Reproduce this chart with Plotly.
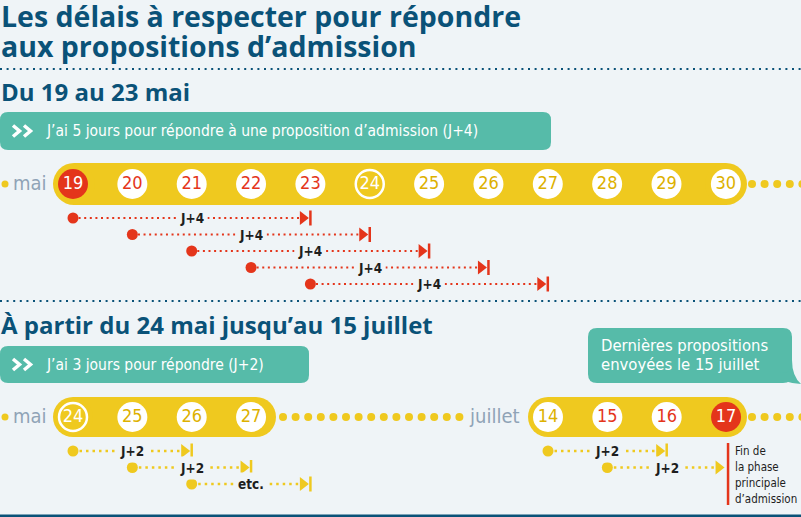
import numpy as np
import plotly.graph_objects as go

# ---------------- data ----------------
title_lines = ["Les délais à respecter pour répondre", "aux propositions d’admission"]
section1_title = "Du 19 au 23 mai"
section1_rule = "J’ai 5 jours pour répondre à une proposition d’admission (J+4)"
section2_title = "À partir du 24 mai jusqu’au 15 juillet"
section2_rule = "J’ai 3 jours pour répondre (J+2)"
bubble_lines = ["Dernières propositions", "envoyées le 15 juillet"]
end_note_lines = ["Fin de", "la phase", "principale", "d’admission"]

month_mai = "mai"
month_juillet = "juillet"

days_p1 = [19, 20, 21, 22, 23, 24, 25, 26, 27, 28, 29, 30]
p1_starts = [19, 20, 21, 22, 23]
p1_delay = 4
p1_labels = ["J+4", "J+4", "J+4", "J+4", "J+4"]

days_p2_mai = [24, 25, 26, 27]
p2_mai_starts = [24, 25, 26]
p2_delay = 2
p2_mai_labels = ["J+2", "J+2", "etc."]

days_p2_juil = [14, 15, 16, 17]
p2_juil_starts = [14, 15]
p2_juil_labels = ["J+2", "J+2"]
last_proposal_day = 15
end_day = 17

# ---------------- styles / layout ----------------
W, H = 801, 517
BG = "#EFF4F7"
NAVY = "#0A5278"
TEAL = "#56BBA9"
YEL = "#EFC91F"
YEL_TXT = "#DDB100"
RED = "#E4351B"
GREY = "#8FA3B6"
INK = "#1E1E1E"
COND = "Liberation Sans Narrow, DejaVu Sans Condensed, Arial Narrow, sans-serif"
HEAD = "Open Sans, Roboto, DejaVu Sans, sans-serif"

STEP = 59.35
X0_P1, Y_P1 = 73, 184
X0_MAI, X0_JUIL, Y_P2 = 73, 548, 417
ROW_P1 = [218, 234.5, 251, 267.5, 284]
ROW_P2 = [451, 467.5, 484]

fig = go.Figure()
shapes = []
ann = []


def xpos(day, first, x0):
    return x0 + (day - first) * STEP


def rrect(x0, y0, x1, y1, r):
    return (f"M{x0+r},{y0} L{x1-r},{y0} Q{x1},{y0} {x1},{y0+r} L{x1},{y1-r} Q{x1},{y1} {x1-r},{y1} "
            f"L{x0+r},{y1} Q{x0},{y1} {x0},{y1-r} L{x0},{y0+r} Q{x0},{y0} {x0+r},{y0} Z")


def pill(x0, x1, yc, r, color):
    shapes.append(dict(type="rect", x0=x0 + r, x1=x1 - r, y0=yc - r, y1=yc + r,
                       fillcolor=color, line_width=0, layer="below"))
    for cx in (x0 + r, x1 - r):
        shapes.append(dict(type="circle", x0=cx - r, x1=cx + r, y0=yc - r, y1=yc + r,
                           fillcolor=color, line_width=0, layer="below"))


def text(x, y, s, size, color, family=COND, xanchor="left", bold=False, bg=None):
    ann.append(dict(x=x, y=y, xref="x", yref="y", text=(f"<b>{s}</b>" if bold else s),
                    showarrow=False, xanchor=xanchor, yanchor="middle",
                    font=dict(family=family, size=size, color=color),
                    bgcolor=bg, borderpad=0))


def dot_trail(x_start, x_end, spacing, yc):
    xs = np.arange(x_start, x_end, spacing)
    fig.add_trace(go.Scatter(x=xs, y=[yc] * len(xs), mode="markers",
                             marker=dict(size=8, color=YEL), hoverinfo="skip"))


def day_circles(days, xs, yc, styles):
    groups = {
        "current": dict(fill=RED, txt="white", line=RED, lw=0),
        "deadline": dict(fill="white", txt=RED, line="white", lw=0),
        "ring": dict(fill=YEL, txt="white", line="white", lw=2.5),
        "plain": dict(fill="white", txt=YEL_TXT, line="white", lw=0),
    }
    for name, g in groups.items():
        sel = [i for i, s in enumerate(styles) if s == name]
        if not sel:
            continue
        fig.add_trace(go.Scatter(
            x=[xs[i] for i in sel], y=[yc] * len(sel), mode="markers+text",
            text=[str(days[i]) for i in sel], textposition="middle center",
            textfont=dict(family=COND, size=18, color=g["txt"]),
            marker=dict(size=30 if g["lw"] == 0 else 28, color=g["fill"],
                        line=dict(color=g["line"], width=g["lw"])),
            hoverinfo="skip"))


def delay_rows(starts, delay, labels, first, x0, rows, color, dash, lw, bar_skip=None):
    for s, lab, y in zip(starts, labels, rows):
        xs = xpos(s, first, x0)
        xe = xpos(s + delay, first, x0)
        fig.add_trace(go.Scatter(x=[xs, xe - 10], y=[y, y], mode="lines",
                                 line=dict(color=color, width=lw, dash=dash), hoverinfo="skip"))
        fig.add_trace(go.Scatter(x=[xs], y=[y], mode="markers",
                                 marker=dict(size=11, color=color), hoverinfo="skip"))
        fig.add_trace(go.Scatter(x=[xe - 7.5], y=[y], mode="markers",
                                 marker=dict(size=12, color=color, symbol="triangle-right"),
                                 hoverinfo="skip"))
        if bar_skip is None or s + delay != bar_skip:
            shapes.append(dict(type="line", x0=xe, x1=xe, y0=y - 7.5, y1=y + 7.5,
                               line=dict(color=color, width=2.5)))
        ann.append(dict(x=(xs + xe) / 2, y=y, xref="x", yref="y", text=f"<b>{lab}</b>",
                        showarrow=False, xanchor="center", yanchor="middle",
                        font=dict(family=COND, size=13.5, color=INK),
                        bgcolor=BG, borderpad=3))


# ---------------- header ----------------
text(0, 16, title_lines[0], 28.5, NAVY, family=HEAD, bold=True)
text(0, 46, title_lines[1], 28.5, NAVY, family=HEAD, bold=True)
fig.add_trace(go.Scatter(x=[0, W], y=[69, 69], mode="lines",
                         line=dict(color=NAVY, width=2, dash="2px,4.6px"), hoverinfo="skip"))

# ---------------- section 1 ----------------
text(0, 91, section1_title, 24, NAVY, family=HEAD, bold=True)
shapes.append(dict(type="path", path=rrect(0, 112, 551, 150, 8), fillcolor=TEAL, line_width=0, layer="below"))
text(45, 131, section1_rule, 15.5, "white")

fig.add_trace(go.Scatter(x=[5], y=[Y_P1], mode="markers", marker=dict(size=7, color=YEL), hoverinfo="skip"))
text(48, Y_P1 - 1, month_mai, 20, GREY, xanchor="right")
pill(53, 747, Y_P1, 21, YEL)
dot_trail(752, W + 5, 12.6, Y_P1)

xs_p1 = [xpos(d, days_p1[0], X0_P1) for d in days_p1]
st_p1 = []
for d in days_p1:
    if d == p1_starts[0]:
        st_p1.append("current")
    elif d <= p1_starts[-1]:
        st_p1.append("deadline")
    elif d == days_p2_mai[0]:
        st_p1.append("ring")
    else:
        st_p1.append("plain")
day_circles(days_p1, xs_p1, Y_P1, st_p1)
delay_rows(p1_starts, p1_delay, p1_labels, days_p1[0], X0_P1, ROW_P1, RED, "2px,3.6px", 2.2)

fig.add_trace(go.Scatter(x=[0, W], y=[301, 301], mode="lines",
                         line=dict(color=NAVY, width=2, dash="2px,4.6px"), hoverinfo="skip"))

# ---------------- section 2 ----------------
text(0, 324, section2_title, 24, NAVY, family=HEAD, bold=True)
shapes.append(dict(type="path", path=rrect(0, 346, 309, 383, 8), fillcolor=TEAL, line_width=0, layer="below"))
text(45, 364.5, section2_rule, 15.5, "white")

# chevrons ">>"
for yc in (131, 364.5):
    for cx in (13, 24):
        shapes.append(dict(type="path", path=f"M{cx},{yc-5.5} L{cx+6.5},{yc} L{cx},{yc+5.5}",
                           line=dict(color="white", width=3.5)))

# speech bubble
shapes.append(dict(type="path", path=rrect(588, 328, 792, 383, 9), fillcolor=TEAL, line_width=0, layer="below"))
shapes.append(dict(type="path", path="M780,372 Q792,376 792,360 Q792,376 801,384 Q790,383 780,380 Z",
                   fillcolor=TEAL, line_width=0, layer="below"))
text(600, 345, bubble_lines[0], 16.5, "white")
text(600, 364, bubble_lines[1], 16.5, "white")

fig.add_trace(go.Scatter(x=[5], y=[Y_P2], mode="markers", marker=dict(size=7, color=YEL), hoverinfo="skip"))
text(48, Y_P2 - 1, month_mai, 20, GREY, xanchor="right")
pill(53, 276, Y_P2, 20, YEL)
dot_trail(283, 462, 12.6, Y_P2)
text(521, Y_P2 - 1, month_juillet, 20, GREY, xanchor="right")
pill(528, 747, Y_P2, 20, YEL)
dot_trail(752, W + 5, 12.6, Y_P2)

xs_mai = [xpos(d, days_p2_mai[0], X0_MAI) for d in days_p2_mai]
st_mai = ["ring" if d == days_p2_mai[0] else "plain" for d in days_p2_mai]
day_circles(days_p2_mai, xs_mai, Y_P2, st_mai)

xs_juil = [xpos(d, days_p2_juil[0], X0_JUIL) for d in days_p2_juil]
st_juil = []
for d in days_p2_juil:
    if d == end_day:
        st_juil.append("current")
    elif d >= last_proposal_day:
        st_juil.append("deadline")
    else:
        st_juil.append("plain")
day_circles(days_p2_juil, xs_juil, Y_P2, st_juil)

delay_rows(p2_mai_starts, p2_delay, p2_mai_labels, days_p2_mai[0], X0_MAI, ROW_P2, YEL, "2.5px,4px", 2.5)
delay_rows(p2_juil_starts, p2_delay, p2_juil_labels, days_p2_juil[0], X0_JUIL, ROW_P2, YEL, "2.5px,4px", 2.5,
           bar_skip=end_day)

# end of phase marker
x_end = xpos(end_day, days_p2_juil[0], X0_JUIL) + 2
shapes.append(dict(type="line", x0=x_end, x1=x_end, y0=443, y1=505, line=dict(color=RED, width=2.5)))
for i, line in enumerate(end_note_lines):
    text(734, 451 + i * 16, line, 11.5, INK)

# bottom rule
shapes.append(dict(type="line", x0=0, x1=W, y0=516, y1=516, line=dict(color=NAVY, width=3)))

fig.update_layout(
    width=W, height=H, margin=dict(l=0, r=0, t=0, b=0),
    paper_bgcolor=BG, plot_bgcolor=BG, showlegend=False,
    xaxis=dict(range=[0, W], visible=False, fixedrange=True),
    yaxis=dict(range=[H, 0], visible=False, fixedrange=True),
    shapes=shapes, annotations=ann,
)
fig.write_html("out.html", config={"displayModeBar": False},
               post_script="document.body.style.margin='0';")
